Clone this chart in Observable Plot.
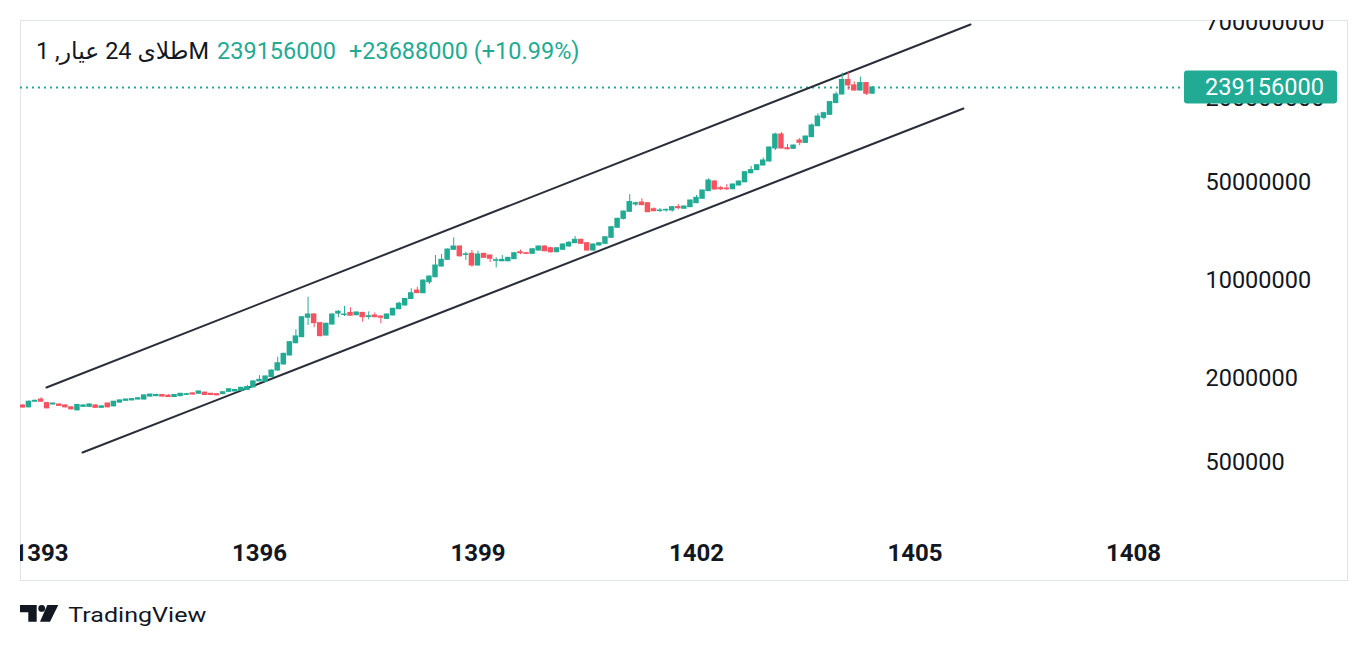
<!DOCTYPE html>
<html>
<head>
<meta charset="utf-8">
<script src="https://cdn.jsdelivr.net/npm/d3@7"></script>
<script src="https://cdn.jsdelivr.net/npm/@observablehq/plot@0.6"></script>
<style>
  html, body { margin: 0; padding: 0; background: #ffffff; }
  #chart { width: 1368px; height: 650px; }
</style>
</head>
<body>
<div id="chart"></div>
<script>
// ---- Data (monthly candles, values in millions of rials) ----
const unit = 1e6;
const startYear = 1392, startMonth = 10; // first candle: Dey 1392

const open = [1.278,1.24,1.36,1.41,1.33,1.30,1.30,1.28,1.24,1.18,
1.25,1.25,1.28,1.23,1.32,1.26,1.34,1.38,1.39,1.41,
1.41,1.48,1.49,1.52,1.50,1.47,1.49,1.52,1.56,1.55,
1.58,1.55,1.54,1.54,1.60,1.61,1.63,1.65,1.72,1.90,
1.89,2.04,2.27,2.51,2.91,3.56,3.93,5.41,5.71,4.95,
4.04,4.84,5.79,5.66,5.86,5.64,5.86,5.48,5.62,5.52,
5.31,5.62,6.23,6.62,7.37,8.47,8.10,9.70,10.54,12.57,
14.03,16.54,17.47,15.20,15.48,12.78,15.48,15.06,13.80,13.70,
13.70,14.18,15.90,15.64,15.48,16.35,17.47,16.98,15.90,16.54,
17.47,18.45,19.50,18.45,16.35,17.76,18.26,20.15,23.77,27.50,
30.90,34.86,36.03,35.60,32.26,31.30,31.60,31.58,33.40,32.50,
33.35,35.60,38.30,43.40,50.88,45.60,45.30,44.80,47.64,50.20,
58.30,61.30,66.20,70.70,87.50,110.2,88.00,87.10,99.80,96.00,
105.5,126.3,144.8,152.3,184.7,212.8,270.3,247.2,227.2,256.9,
215.468];

const high = [1.30,1.38,1.40,1.45,1.35,1.33,1.31,1.29,1.25,1.30,
1.29,1.31,1.29,1.27,1.33,1.37,1.40,1.42,1.43,1.46,
1.52,1.54,1.54,1.53,1.53,1.53,1.56,1.56,1.57,1.62,
1.59,1.56,1.55,1.60,1.68,1.67,1.72,1.78,1.91,2.09,
2.08,2.30,2.83,3.02,3.66,4.44,5.52,7.59,5.80,5.00,
4.95,5.76,6.10,6.51,6.37,5.95,5.92,5.96,5.86,5.57,
5.76,6.33,6.99,7.45,8.72,8.93,10.05,10.75,15.06,15.31,
16.80,20.15,17.60,15.90,16.35,16.16,15.60,15.20,14.50,15.06,
14.60,15.80,16.50,15.80,16.80,17.60,17.60,17.26,17.10,18.20,
18.97,20.59,19.70,18.60,18.20,18.60,20.50,24.20,27.80,31.30,
41.00,36.20,38.30,35.80,33.00,32.60,32.40,33.50,34.86,33.90,
37.40,40.41,44.10,53.20,51.50,46.90,48.40,48.70,51.20,59.70,
65.10,67.00,74.90,89.60,112.6,113.9,93.50,92.50,103.2,107.2,
131.4,155.0,159.2,189.0,221.7,302.8,306.3,261.5,283.7,259.0,
241.0];

const low = [1.226,1.23,1.35,1.35,1.21,1.29,1.26,1.23,1.19,1.17,
1.24,1.24,1.22,1.22,1.23,1.25,1.33,1.37,1.38,1.40,
1.40,1.47,1.48,1.47,1.46,1.46,1.48,1.51,1.52,1.54,
1.51,1.51,1.50,1.53,1.59,1.60,1.62,1.64,1.71,1.89,
1.88,2.03,2.25,2.49,2.88,3.52,3.90,4.76,4.59,3.95,
4.00,4.80,5.41,5.52,5.55,5.60,5.03,5.23,5.42,4.90,
5.27,5.58,6.18,6.57,7.32,8.05,8.05,9.35,10.45,12.45,
13.95,16.40,14.64,13.90,12.42,12.65,14.40,13.43,12.30,13.60,
13.60,14.10,15.30,15.30,15.40,16.20,16.05,15.64,15.80,16.40,
17.30,18.30,18.10,16.20,16.20,17.60,18.10,20.00,23.60,27.00,
30.50,33.70,34.30,30.50,31.00,30.60,30.70,30.70,31.90,32.30,
33.20,35.40,38.10,43.20,44.30,43.90,43.90,44.50,47.30,49.90,
57.60,60.90,65.80,70.20,84.70,87.00,85.50,86.60,91.70,95.50,
105.0,125.5,140.1,151.0,183.0,211.0,227.2,225.0,225.0,209.3,
214.0];

const close = [1.236,1.36,1.38,1.36,1.22,1.32,1.27,1.24,1.20,1.29,
1.28,1.30,1.23,1.26,1.24,1.36,1.39,1.41,1.42,1.44,
1.51,1.53,1.52,1.48,1.47,1.52,1.55,1.54,1.53,1.61,
1.52,1.52,1.51,1.59,1.67,1.65,1.71,1.73,1.90,1.95,
2.06,2.27,2.56,2.99,3.62,3.98,5.46,5.71,4.95,4.00,
4.90,5.71,5.97,5.71,5.60,5.90,5.46,5.55,5.46,5.41,
5.71,6.27,6.82,7.37,8.10,8.12,9.98,10.66,12.78,14.03,
16.62,17.47,14.88,15.35,12.78,15.31,14.50,14.27,13.95,14.03,
14.50,15.64,15.64,15.48,16.70,17.47,16.16,15.90,16.98,18.05,
18.57,19.50,18.26,16.35,18.05,18.45,20.35,23.99,27.54,31.05,
36.30,35.60,34.46,30.70,31.20,31.60,31.90,33.35,32.80,33.73,
37.22,38.90,43.87,51.73,44.60,44.80,44.80,48.43,50.88,59.30,
61.40,66.50,71.88,89.00,110.2,87.50,86.50,91.97,96.20,106.6,
127.8,148.2,156.5,187.8,212.8,270.3,247.2,227.2,256.9,215.468,
239.156];

// Channel (trend) lines: [year, price]
const upperLineT = [1393.075, 1405.763];
const upperLineV = [1718000, 672900000];
const lowerLineT = [1393.570, 1405.666];
const lowerLineV = [589700, 169000000];

// Tick labels
const xTicks = [1393, 1396, 1399, 1402, 1405, 1408];
const yTicks = [500000, 2000000, 10000000, 50000000, 200000000, 700000000];

const headerTitle = "طلای 24 عیار, 1M";

// ---- Build ----
const green = "#22ab94", red = "#f7525f", ink = "#131722";
const font = "Roboto, 'DejaVu Sans', sans-serif";

const candles = close.map((c, i) => {
  const t = startYear + (startMonth - 1 + i) / 12;
  return {
    t,
    open: open[i] * unit, high: high[i] * unit, low: low[i] * unit, close: c * unit,
    color: c >= open[i] ? green : red
  };
});
const upperLine = upperLineT.map((t, i) => ({t, v: upperLineV[i]}));
const lowerLine = lowerLineT.map((t, i) => ({t, v: lowerLineV[i]}));

const lastClose = Math.round(close[close.length - 1] * unit);
const prevClose = Math.round(close[close.length - 2] * unit);
const diff = lastClose - prevClose;
const pct = (diff / prevClose * 100).toFixed(2);

const xDomain = [1392.7184, 1408.687];
const bw = 0.45 / 12;

const chart = Plot.plot({
  width: 1368,
  height: 650,
  marginLeft: 20,
  marginRight: 21,
  marginTop: 20,
  marginBottom: 70,
  style: {background: "#ffffff", fontFamily: font},
  x: {type: "linear", domain: xDomain, range: [20, 1183], axis: null},
  y: {type: "log", domain: [163600, 718600000], range: [530, 20], axis: null},
  color: {type: "identity"},
  marks: [
    Plot.frame({stroke: "#e0e3eb"}),
    // last price dotted line
    Plot.ruleY([lastClose], {x1: () => xDomain[0], x2: () => xDomain[1], stroke: green, strokeWidth: 2, strokeDasharray: "2,4"}),
    // channel lines
    Plot.line(upperLine, {x: "t", y: "v", stroke: "#2a2e39", strokeWidth: 2}),
    Plot.line(lowerLine, {x: "t", y: "v", stroke: "#2a2e39", strokeWidth: 2}),
    // candles
    Plot.ruleX(candles, {x: "t", y1: "low", y2: "high", stroke: "color", strokeWidth: 1, clip: "frame"}),
    Plot.rect(candles, {x1: d => d.t - bw, x2: d => d.t + bw, y1: "open", y2: "close", fill: "color", insetTop: -0.5, insetBottom: -0.5, clip: "frame"}),
    // y tick labels (right price scale)
    Plot.text(yTicks, {y: d => d, text: d => String(d), frameAnchor: "right", textAnchor: "start", lineAnchor: "middle", dx: -142, fontSize: 23.5, fill: ink, fontFamily: font, clip: "frame"}),
    // x tick labels
    Plot.text(xTicks, {x: d => d, text: d => String(d), frameAnchor: "bottom", lineAnchor: "middle", dy: -27, fontSize: 24, fontWeight: "bold", fill: ink, fontFamily: font, clip: "frame"})
  ]
});

document.getElementById("chart").appendChild(chart);
const svg = d3.select(chart);

// price label on scale
const yl = chart.scale("y").apply(lastClose);
svg.append("rect").attr("x", 1184).attr("y", yl - 16.5).attr("width", 153).attr("height", 33)
  .attr("rx", 3).attr("fill", green);
svg.append("text").attr("x", 1205).attr("y", yl).attr("dy", "0.36em").attr("text-anchor", "start")
  .attr("font-family", font).attr("font-size", 23.5).attr("fill", "#ffffff").text(String(lastClose));

// header
const hdr = svg.append("text").attr("x", 36).attr("y", 59).attr("text-anchor", "start")
  .attr("font-family", font).attr("font-size", 23.5);
hdr.append("tspan").attr("fill", ink).text(headerTitle);
hdr.append("tspan").attr("fill", green).attr("dx", 8).text(String(lastClose));
hdr.append("tspan").attr("fill", green).attr("dx", 13).text(`+${diff} (+${pct}%)`);

// TradingView logo + wordmark
const logo = svg.append("g").attr("transform", "translate(20,605)").attr("fill", ink);
logo.append("path").attr("d", "M0 0H16.7V16.7H8.3V7.3H0Z");
logo.append("circle").attr("cx", 21.7).attr("cy", 3.4).attr("r", 3.4);
logo.append("path").attr("d", "M27.3 0H38.3L30 16.7H20Z");
svg.append("text").attr("x", 68.3).attr("y", 621.7).attr("text-anchor", "start")
  .attr("font-family", font).attr("font-size", 19.7)
  .attr("fill", ink).attr("textLength", 138).attr("lengthAdjust", "spacingAndGlyphs").text("TradingView");
</script>
</body>
</html>
